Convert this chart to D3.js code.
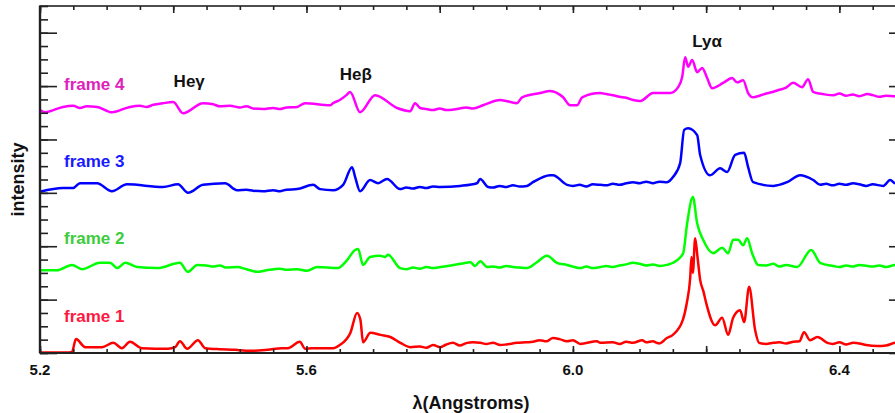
<!DOCTYPE html>
<html>
<head>
<meta charset="utf-8">
<script src="https://cdn.jsdelivr.net/npm/d3@7"></script>
<style>
  html, body { margin: 0; padding: 0; background: #fff; }
  svg { display: block; }
  text { font-family: "Liberation Sans", Arial, Helvetica, sans-serif; font-weight: bold; }
</style>
</head>
<body>
<script>
// Spectra: [wavelength (Å), intensity (offset per frame)]
const frame1 = [[5.200,0.01],[5.240,0.01],[5.248,0.02],[5.254,0.26],[5.268,0.11],[5.293,0.11],[5.310,0.19],[5.323,0.09],[5.335,0.21],[5.353,0.09],[5.392,0.08],[5.403,0.11],[5.410,0.22],[5.421,0.08],[5.437,0.24],[5.448,0.09],[5.470,0.07],[5.493,0.06],[5.500,0.05],[5.520,0.04],[5.542,0.06],[5.563,0.09],[5.572,0.09],[5.590,0.21],[5.598,0.08],[5.608,0.09],[5.640,0.09],[5.650,0.15],[5.666,0.38],[5.676,0.75],[5.681,0.62],[5.685,0.20],[5.696,0.38],[5.711,0.34],[5.726,0.30],[5.741,0.19],[5.756,0.11],[5.770,0.12],[5.780,0.10],[5.790,0.15],[5.801,0.11],[5.810,0.16],[5.820,0.19],[5.830,0.14],[5.841,0.19],[5.850,0.20],[5.861,0.19],[5.870,0.17],[5.880,0.19],[5.891,0.15],[5.900,0.16],[5.916,0.19],[5.930,0.20],[5.940,0.21],[5.950,0.24],[5.960,0.22],[5.970,0.28],[5.980,0.26],[5.991,0.22],[6.000,0.24],[6.011,0.17],[6.036,0.22],[6.041,0.19],[6.060,0.20],[6.070,0.17],[6.080,0.21],[6.090,0.19],[6.104,0.24],[6.110,0.20],[6.120,0.22],[6.126,0.19],[6.130,0.18],[6.141,0.28],[6.150,0.34],[6.165,0.62],[6.171,0.94],[6.176,1.40],[6.178,1.80],[6.180,1.50],[6.1835,2.15],[6.187,1.80],[6.191,1.37],[6.196,1.15],[6.200,0.94],[6.2135,0.52],[6.224,0.66],[6.233,0.34],[6.2405,0.66],[6.251,0.80],[6.257,0.58],[6.2645,1.24],[6.2735,0.43],[6.2795,0.19],[6.290,0.17],[6.301,0.19],[6.310,0.20],[6.320,0.18],[6.331,0.21],[6.340,0.22],[6.347,0.39],[6.356,0.24],[6.367,0.30],[6.382,0.19],[6.390,0.17],[6.400,0.20],[6.410,0.16],[6.421,0.19],[6.430,0.18],[6.440,0.15],[6.457,0.13],[6.470,0.14],[6.484,0.19],[6.490,0.17],[6.500,0.17]];

const frame2 = [[5.200,1.55],[5.2255,1.55],[5.248,1.65],[5.263,1.57],[5.290,1.69],[5.305,1.69],[5.316,1.59],[5.328,1.69],[5.346,1.61],[5.376,1.59],[5.410,1.69],[5.422,1.52],[5.436,1.65],[5.450,1.64],[5.460,1.62],[5.470,1.64],[5.480,1.60],[5.496,1.61],[5.510,1.57],[5.526,1.52],[5.540,1.55],[5.560,1.58],[5.570,1.56],[5.586,1.57],[5.601,1.54],[5.616,1.61],[5.647,1.59],[5.661,1.74],[5.673,1.93],[5.6775,1.95],[5.685,1.65],[5.6955,1.80],[5.7105,1.82],[5.718,1.80],[5.7225,1.84],[5.7405,1.59],[5.750,1.57],[5.760,1.60],[5.770,1.58],[5.780,1.61],[5.790,1.59],[5.801,1.61],[5.831,1.67],[5.846,1.70],[5.853,1.63],[5.861,1.72],[5.871,1.61],[5.880,1.62],[5.890,1.60],[5.900,1.63],[5.910,1.61],[5.920,1.60],[5.931,1.59],[5.946,1.70],[5.961,1.82],[5.976,1.69],[5.991,1.65],[6.011,1.59],[6.020,1.62],[6.030,1.59],[6.041,1.61],[6.050,1.63],[6.060,1.61],[6.070,1.64],[6.080,1.66],[6.090,1.69],[6.100,1.67],[6.110,1.64],[6.120,1.66],[6.130,1.63],[6.141,1.65],[6.1565,1.74],[6.1655,1.87],[6.1715,2.43],[6.180,2.92],[6.1865,2.43],[6.1955,2.12],[6.2105,1.87],[6.224,1.97],[6.233,1.87],[6.2405,2.12],[6.248,2.12],[6.2555,2.02],[6.2615,2.15],[6.269,1.87],[6.278,1.65],[6.290,1.64],[6.301,1.67],[6.310,1.62],[6.320,1.65],[6.3366,1.61],[6.3577,1.93],[6.3712,1.69],[6.391,1.63],[6.400,1.61],[6.410,1.64],[6.420,1.62],[6.430,1.65],[6.442,1.63],[6.450,1.62],[6.460,1.64],[6.470,1.61],[6.484,1.65],[6.490,1.63],[6.500,1.64]];

const frame3 = [[5.200,3.02],[5.2345,3.09],[5.2496,3.09],[5.260,3.18],[5.2856,3.18],[5.308,3.03],[5.3306,3.16],[5.3847,3.11],[5.4072,3.16],[5.4222,3.00],[5.4447,3.15],[5.4778,3.18],[5.4958,3.05],[5.510,3.06],[5.520,3.04],[5.5348,3.03],[5.550,3.05],[5.560,3.03],[5.570,3.06],[5.5859,3.07],[5.610,3.15],[5.6204,3.07],[5.640,3.05],[5.655,3.15],[5.6685,3.48],[5.673,3.30],[5.6805,3.03],[5.6955,3.24],[5.7075,3.18],[5.721,3.26],[5.7405,3.07],[5.750,3.10],[5.760,3.08],[5.770,3.11],[5.780,3.09],[5.790,3.12],[5.8006,3.11],[5.8306,3.13],[5.856,3.18],[5.8607,3.26],[5.8727,3.11],[5.880,3.10],[5.890,3.13],[5.900,3.11],[5.910,3.14],[5.920,3.12],[5.931,3.13],[5.940,3.20],[5.9658,3.33],[5.970,3.33],[5.9913,3.15],[6.000,3.13],[6.010,3.15],[6.020,3.12],[6.030,3.16],[6.0408,3.15],[6.050,3.14],[6.060,3.17],[6.070,3.15],[6.080,3.18],[6.0904,3.20],[6.100,3.18],[6.110,3.21],[6.120,3.18],[6.130,3.21],[6.1414,3.20],[6.1505,3.30],[6.161,3.56],[6.167,4.18],[6.173,4.21],[6.1865,4.08],[6.191,3.71],[6.206,3.33],[6.221,3.46],[6.2315,3.39],[6.2435,3.71],[6.257,3.75],[6.263,3.48],[6.2705,3.20],[6.301,3.13],[6.3216,3.20],[6.3411,3.33],[6.3607,3.24],[6.3712,3.15],[6.380,3.17],[6.390,3.14],[6.400,3.17],[6.410,3.15],[6.4207,3.18],[6.430,3.16],[6.440,3.13],[6.450,3.16],[6.4658,3.13],[6.4763,3.24],[6.4838,3.18],[6.500,3.18]];

const frame4 = [[5.200,4.55],[5.2075,4.51],[5.2345,4.61],[5.250,4.63],[5.260,4.59],[5.270,4.62],[5.2856,4.61],[5.308,4.51],[5.335,4.61],[5.350,4.63],[5.360,4.61],[5.370,4.65],[5.3847,4.68],[5.400,4.70],[5.4147,4.49],[5.4447,4.68],[5.460,4.66],[5.470,4.62],[5.4853,4.63],[5.500,4.60],[5.510,4.62],[5.520,4.58],[5.5348,4.57],[5.550,4.59],[5.560,4.57],[5.570,4.60],[5.5859,4.61],[5.5979,4.68],[5.6354,4.64],[5.640,4.68],[5.650,4.74],[5.660,4.83],[5.6655,4.89],[5.6805,4.51],[5.703,4.83],[5.736,4.59],[5.7556,4.53],[5.763,4.68],[5.7706,4.59],[5.780,4.57],[5.790,4.55],[5.800,4.58],[5.810,4.55],[5.826,4.57],[5.840,4.60],[5.850,4.58],[5.865,4.64],[5.8907,4.74],[5.916,4.68],[5.9237,4.79],[5.9508,4.87],[5.9658,4.91],[5.9853,4.79],[5.9958,4.64],[6.0063,4.64],[6.0138,4.79],[6.0408,4.87],[6.050,4.85],[6.060,4.83],[6.070,4.80],[6.080,4.78],[6.0904,4.74],[6.101,4.72],[6.1204,4.87],[6.146,4.87],[6.158,4.98],[6.164,5.17],[6.1685,5.54],[6.173,5.36],[6.179,5.49],[6.1865,5.26],[6.194,5.34],[6.2015,5.15],[6.209,4.96],[6.2255,5.06],[6.239,5.15],[6.2465,5.07],[6.2555,5.11],[6.263,4.87],[6.2705,4.79],[6.280,4.82],[6.290,4.86],[6.300,4.89],[6.310,4.93],[6.320,4.97],[6.3306,5.06],[6.344,4.98],[6.353,5.13],[6.3607,4.89],[6.370,4.86],[6.380,4.84],[6.391,4.83],[6.400,4.86],[6.410,4.82],[6.420,4.84],[6.430,4.81],[6.442,4.85],[6.450,4.83],[6.460,4.80],[6.470,4.82],[6.4838,4.81],[6.500,4.82]];

const frameNames = ["frame 1", "frame 2", "frame 3", "frame 4"];
const lineColors = ["#ff0000", "#00ff00", "#0000ff", "#ff00ff"];
const labelColors = ["#ff1840", "#3ccc3c", "#1a1aff", "#dd22bb"];
// label anchor per frame: [wavelength, intensity]
const labelAnchors = [[5.236,0.58],[5.236,2.04],[5.236,3.48],[5.236,4.93]];

// spectral line identifications: [text, wavelength, intensity]
const lineIds = [["Heγ", 5.424, 4.98], ["Heβ", 5.674, 5.11], ["Lyα", 6.2015, 5.73]];

const xLabelTicks = [5.2, 5.6, 6.0, 6.4];
const xDomain = [5.2, 6.5];
const yDomain = [0, 6.5];

const W = 895, H = 413;
const margin = { left: 40, top: 6, right: 906, bottom: 353 };

const svg = d3.select("body").append("svg").attr("width", W).attr("height", H);

const x = d3.scaleLinear().domain(xDomain).range([margin.left, margin.right]);
const y = d3.scaleLinear().domain(yDomain).range([margin.bottom, margin.top]);

const line = d3.line().x(d => x(d[0])).y(d => y(d[1])).curve(d3.curveMonotoneX);

// spectra
const series = [frame1, frame2, frame3, frame4];
svg.append("g").selectAll("path").data(series).join("path")
  .attr("d", line)
  .attr("fill", "none")
  .attr("stroke", (d, i) => lineColors[i])
  .attr("stroke-width", 2.5)
  .attr("stroke-linejoin", "round");

// axes: inward ticks on all four sides
const axisColor = "#222";
const xMinor = d3.range(5.2, 6.5001, 0.05);
const xMajor = d3.range(5.2, 6.5001, 0.2);
const yMinor = d3.range(0, 6.5001, 0.25);
const yMajor = d3.range(0, 6.5001, 1);

function styleAxis(g) {
  g.select(".domain").remove();
  g.selectAll("line").attr("stroke", axisColor).attr("stroke-width", 1.6);
  g.selectAll("text").remove();
}

svg.append("g").attr("transform", `translate(0,${margin.bottom})`)
  .call(d3.axisTop(x).tickValues(xMinor).tickSize(4)).call(styleAxis);
svg.append("g").attr("transform", `translate(0,${margin.bottom})`)
  .call(d3.axisTop(x).tickValues(xMajor).tickSize(7)).call(styleAxis);
svg.append("g").attr("transform", `translate(0,${margin.top})`)
  .call(d3.axisBottom(x).tickValues(xMinor).tickSize(4)).call(styleAxis);
svg.append("g").attr("transform", `translate(0,${margin.top})`)
  .call(d3.axisBottom(x).tickValues(xMajor).tickSize(7)).call(styleAxis);

svg.append("g").attr("transform", `translate(${margin.left},0)`)
  .call(d3.axisRight(y).tickValues(yMinor).tickSize(8)).call(styleAxis);
svg.append("g").attr("transform", `translate(${margin.left},0)`)
  .call(d3.axisRight(y).tickValues(yMajor).tickSize(17)).call(styleAxis);
svg.append("g").attr("transform", `translate(${margin.right},0)`)
  .call(d3.axisLeft(y).tickValues(yMinor).tickSize(8)).call(styleAxis);
svg.append("g").attr("transform", `translate(${margin.right},0)`)
  .call(d3.axisLeft(y).tickValues(yMajor).tickSize(17)).call(styleAxis);

// frame box
svg.append("rect")
  .attr("x", margin.left).attr("y", margin.top)
  .attr("width", margin.right - margin.left).attr("height", margin.bottom - margin.top)
  .attr("fill", "none").attr("stroke", axisColor).attr("stroke-width", 1.6);
svg.append("line")
  .attr("x1", margin.left).attr("x2", margin.left)
  .attr("y1", margin.top).attr("y2", margin.bottom)
  .attr("stroke", axisColor).attr("stroke-width", 2.4);
svg.append("line")
  .attr("x1", margin.left).attr("x2", margin.right)
  .attr("y1", margin.bottom).attr("y2", margin.bottom)
  .attr("stroke", axisColor).attr("stroke-width", 2);

// x tick labels
svg.append("g").selectAll("text").data(xLabelTicks).join("text")
  .attr("x", d => x(d)).attr("y", 375)
  .attr("text-anchor", "middle")
  .attr("font-size", 15)
  .attr("fill", "#111")
  .text(d => d.toFixed(1));

// axis titles
svg.append("text")
  .attr("x", 471).attr("y", 409)
  .attr("text-anchor", "middle")
  .attr("font-size", 18)
  .attr("fill", "#111")
  .text("λ(Angstroms)");

svg.append("text")
  .attr("transform", `translate(24,${(margin.top + margin.bottom) / 2}) rotate(-90)`)
  .attr("text-anchor", "middle")
  .attr("font-size", 18)
  .attr("fill", "#111")
  .text("intensity");

// frame labels
svg.append("g").selectAll("text").data(frameNames).join("text")
  .attr("x", (d, i) => x(labelAnchors[i][0]))
  .attr("y", (d, i) => y(labelAnchors[i][1]))
  .attr("font-size", 17)
  .attr("fill", (d, i) => labelColors[i])
  .text(d => d);

// line identifications
svg.append("g").selectAll("text").data(lineIds).join("text")
  .attr("x", d => x(d[1]))
  .attr("y", d => y(d[2]))
  .attr("text-anchor", "middle")
  .attr("font-size", 17)
  .attr("fill", "#111")
  .text(d => d[0]);
</script>
</body>
</html>
